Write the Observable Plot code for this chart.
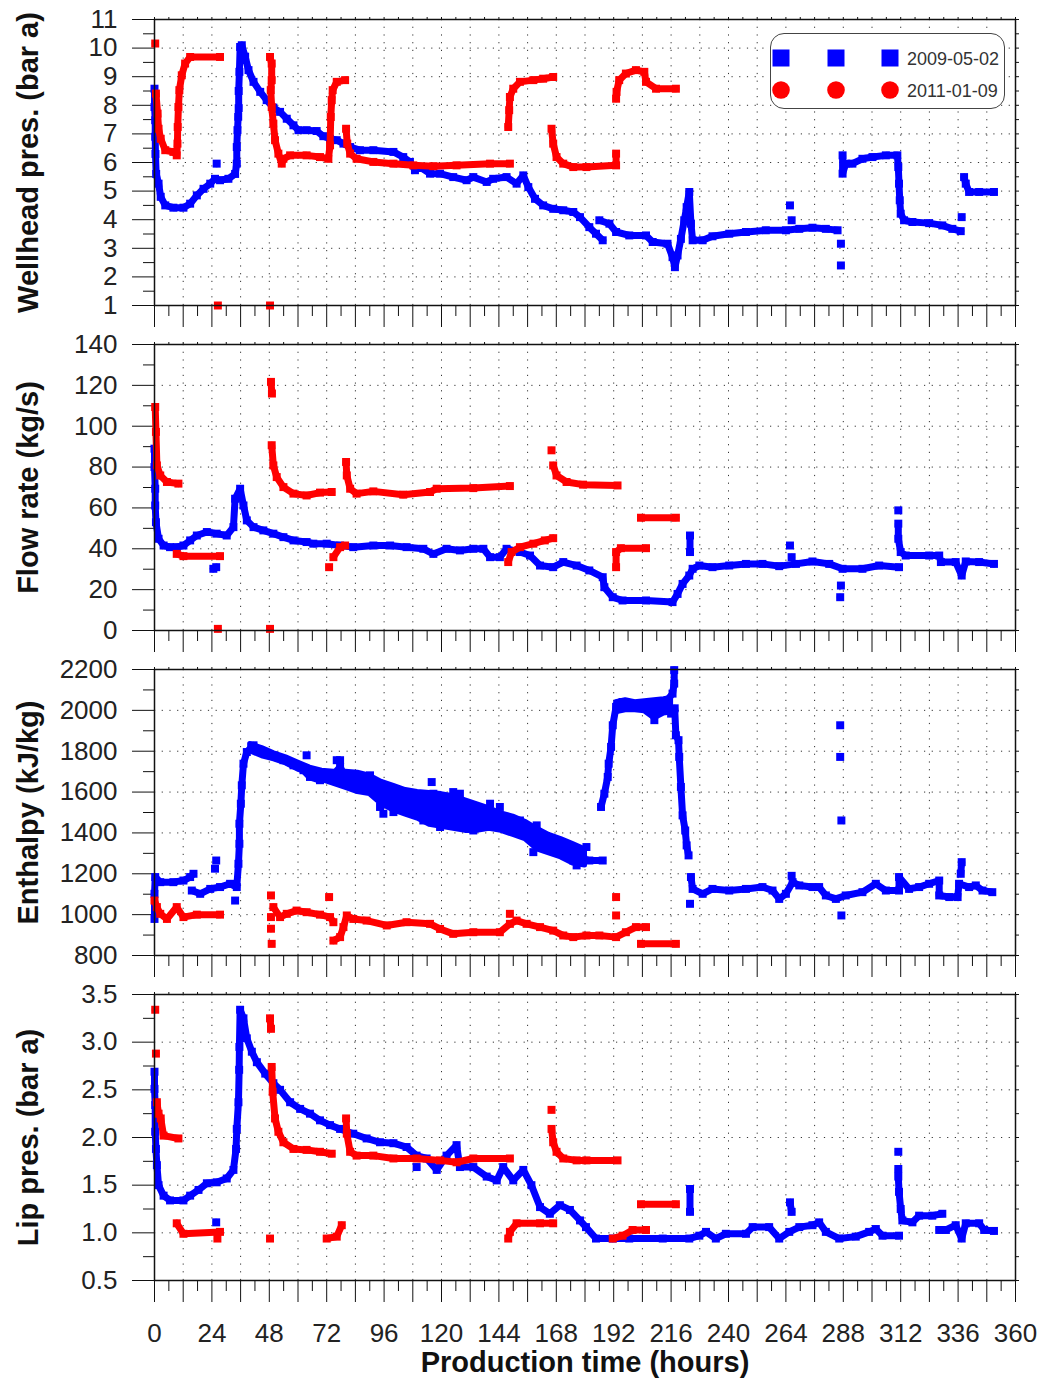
<!DOCTYPE html>
<html><head><meta charset="utf-8">
<script src="https://cdn.jsdelivr.net/npm/d3@7"></script>
<script src="https://cdn.jsdelivr.net/npm/@observablehq/plot@0.6"></script>
<style>
body{margin:0;background:#fff;}
#chart{position:relative;width:1041px;height:1378px;background:#fff;font-family:"Liberation Sans",Arial,sans-serif;}
#chart svg{display:block;}
#legend{position:absolute;left:770px;top:33px;width:235px;height:76px;border:1.5px solid #444;border-radius:14px;box-sizing:border-box;background:#fff;}
</style></head><body><div id="chart"></div>
<script>
// ---- data: [time (h), value]; null = gap in the record ----
const seriesNames = ["2009-05-02", "2011-01-09"];
const timeTicks = d3.range(0, 361, 24);

const wellheadBlue = [[0,8.58],[0,7.94],[0.3,7.48],[0.3,6.9],[0.4,6.3],[0.7,5.6],[1.7,5.26],[2.6,4.8],[4.5,4.5],[7.9,4.42],[12.1,4.42],[14.9,4.56],[17.7,4.85],[20.5,5.08],[23.3,5.26],[25.3,5.43],[27.4,5.38],[30.9,5.43],[33.7,5.6],[34.4,5.96],[34.4,6.54],[34.7,7.13],[35.0,7.6],[35.2,7.9],[35.2,8.5],[35.5,9.17],[35.8,10.04],[36.5,10.1],[37.9,9.7],[39.3,9.23],[41.4,8.82],[44.2,8.47],[46.9,8.18],[49.7,7.92],[52.5,7.77],[55.3,7.53],[58.1,7.3],[60.2,7.13],[63.6,7.13],[67.8,7.1],[70.6,6.92],[73.4,6.83],[76.2,6.78],[79,6.66],[81.8,6.54],[85.9,6.43],[91.5,6.43],[99.9,6.37],[104,6.19],[106.8,6.02],[108.9,5.73],[111,5.84],[115.2,5.61],[119.4,5.61],[124.9,5.49],[130.5,5.38],[133.3,5.49],[138.9,5.32],[141.6,5.43],[147.2,5.49],[151.4,5.26],[154.2,5.55],[156.3,5.14],[159.1,4.73],[162.5,4.5],[166.7,4.38],[170.9,4.33],[175.1,4.27],[177.9,4.09],[181.8,3.74],[184.6,3.51],[187.4,3.28],null,
[26,5.96],null,
[186,3.98],[190.2,3.86],[193,3.57],[198.5,3.45],[205.5,3.45],[208.3,3.22],[214.5,3.16],[216.6,2.69],[217.6,2.34],[218.7,2.75],[220.1,3.33],[221.5,3.98],[222.5,4.44],[223.6,4.97],[224.3,3.86],[225,3.28],[229.2,3.28],[233.3,3.42],[240.3,3.51],[247.3,3.57],[255.6,3.63],[264,3.63],[269.6,3.68],[275.1,3.72],[280.7,3.68],[285.6,3.63],null,
[265.7,4.5],null,[266.4,3.98],null,[287,3.16],null,[287,2.4],null,
[287.7,6.25],[287.7,5.61],[289,5.96],[291.8,5.96],[296,6.13],[300.2,6.19],[305.8,6.25],[310.6,6.25],[311,5.84],[311.3,5.26],[311.6,4.68],[312,4.21],[313.4,3.98],[316.9,3.92],[323.9,3.88],[329.4,3.8],[333.6,3.68],[337.1,3.6],null,
[337.5,4.09],null,
[338.5,5.49],[339.2,5.26],[340.6,4.97],[344.8,4.97],[351,4.97]];

const wellheadRed = [[0.3,10.16],null,
[0.6,8.41],[1.3,7.71],[1.7,7.18],[2.6,6.83],[4.5,6.43],[7.9,6.37],[9.3,6.25],[9.6,6.66],[9.7,7.24],[10,7.94],[10.4,8.53],[11.4,9.05],[12.8,9.46],[14.9,9.69],[27.4,9.69],null,
[26.5,1.0],null,[48.3,1.0],null,
[48.3,9.69],[49,9.46],[49,8.88],[48.6,8.53],[49,7.94],[49.7,7.36],[50.4,6.78],[51.8,6.31],[53.2,5.96],[53.9,6.13],[56.7,6.25],[63.6,6.25],[69.2,6.19],[72.7,6.13],[73.4,6.6],[73.7,7.59],[74.1,8.18],[74.5,8.53],[76.2,8.82],[79.7,8.88],null,
[80.1,7.18],[80.6,6.66],[81.8,6.31],[84.5,6.13],[91.5,6.02],[99.9,5.96],[108.2,5.9],[116.6,5.87],[126.3,5.9],[140.3,5.96],[148.6,5.96],null,
[147.9,7.24],[148.3,7.83],[148.6,8.29],[150,8.58],[152.8,8.82],[158.4,8.88],[162.5,8.93],[166.7,8.99],null,
[166,7.18],[166.7,6.66],[168.1,6.19],[170.9,5.96],[175.1,5.84],[180.6,5.84],[193,5.9],[193,6.31],null,
[193,8.23],[193.2,8.47],[194.3,8.88],[197.1,9.11],[201.3,9.23],[204.8,9.17],[205.5,8.82],[209.7,8.58],[218,8.58]];

const flowBlue = [[0,89],[0,80],[0.3,69.4],[0.3,61.2],[0.6,53],[1.7,44.9],[3.8,41.6],[6.5,40.8],[9.3,40.8],[12.1,41.6],[14.9,44.1],[17.7,46.5],[21.9,48.2],[26,47.4],[30.2,46.5],[33,50.6],[33.7,64.5],[35.8,69.4],[37.2,61.2],[38.6,53.9],[41.4,50.6],[45.5,49],[49.7,47.4],[53.9,45.7],[58.1,44.1],[63.6,43.3],[66.4,42.5],[72,42.5],[77.6,41.6],[83.1,40.8],[91.5,41.6],[98.5,41.6],[105.4,40.8],[112.4,40],[116.6,37.5],[122.1,40],[127.7,39.2],[133.3,40],[137.5,40],[140.3,35.9],[144.4,35.9],[147.2,40],[152.8,38.4],[157,36.7],[161.2,31.8],[166.7,31],[170.9,33.5],[176.5,31.8],[181.8,29.4],[187.4,26.1],[188.1,21.2],[191.6,16.3],[195.7,14.7],[205.5,14.7],[216.6,13.9],[218.7,17.9],[220.8,22.8],[223.6,26.9],[225,30.2],[227.8,31.8],[233.3,31],[240.3,31.8],[247.3,32.6],[254.2,32.6],[261.2,31.5],[268.2,32.6],[275.1,33.8],[282.1,32.6],[287.7,30.2],[296,30.2],[303,31.8],[311.3,31],null,
[24.6,30.2],[25.8,31],null,
[223.9,46.5],[223.9,38.4],null,[265.7,41.6],null,[266.4,35.9],null,[287,22],null,[286.7,16.3],null,
[311,58.8],null,[311,52.3],[311,44.9],[312,38.4],[314.1,36.7],[323.9,36.7],[328.1,36.7],[328.8,33.5],[335,33.5],[337.5,26.9],[339.2,33.8],[344.8,33.5],[351,32.6]];

const flowRed = [[0.3,109.4],[0.6,97.2],[1,80.8],[2.4,75.9],[5.2,72.7],[10,71.9],null,
[9.3,37.5],[12.1,36.4],[27.4,36.4],null,
[26.5,0.8],null,[48.3,0.8],null,
[48.7,121.7],[49.1,116],null,[49,90.7],[49.7,80.8],[51.1,75.1],[53.9,70.2],[58.1,67],[63.6,66.1],[69.2,67.5],[74.1,67.8],null,
[73,31],null,[74.8,35.9],[77.6,40.8],[79.7,41.6],null,
[80.1,82.5],[80.4,75.9],[81.8,69.4],[84.5,67],[91.5,68.1],[104,66.5],[115.2,67.8],[118,69.4],[133.3,69.7],[148.6,70.7],null,
[147.9,33.5],[149.3,38.4],[152.8,40.8],[158.4,42.5],[163.2,44.1],[166.7,45.2],null,
[166,88.2],null,[166.7,80.8],[168.1,75.9],[172.3,72.7],[179.2,71.4],[193.6,71],null,
[193,31],[193,38.4],[195,40.3],[205.5,40.3],null,
[203.4,55.2],[218,55.2]];

const enthalpyBlue = [[0,979],[0,1102],[0.3,1184],[2.4,1159],[7.9,1159],[12.1,1167],[14.9,1184],[16.3,1200],null,
[15.6,1118],[19.1,1102],[23.3,1126],[27.4,1135],[31.6,1151],[34.4,1135],[35.1,1249],[35.5,1347],[35.5,1445],[36.1,1543],[36.5,1633],[37.2,1739],[38.6,1796],[41.4,1829],[44.2,1805],[46.9,1788],[49.7,1780],[53.9,1756],[58.1,1731],[62.3,1707],[65,1674],[69.2,1658],[73.4,1666],[77.6,1723],[80.4,1658],[84.5,1641],[88.7,1666],[91.5,1608],[95.7,1576],[99.9,1600],[104,1559],[108.2,1543],[111,1494],[115.2,1527],[119.4,1478],[123.5,1576],[126.3,1543],[130.5,1510],[133.3,1461],[137.5,1445],[141.6,1478],[145.8,1478],[148.6,1461],[152.8,1461],[157,1396],[159.8,1363],[164,1331],[168.1,1314],[172.3,1306],[175.1,1265],[179.2,1274],[181.8,1265],[187.4,1265],null,
[186.7,1527],[188.1,1592],[189.5,1674],[189.9,1739],[190.9,1821],[191.6,1927],[193,2017],[195.7,2041],[201.3,2017],[205.5,2025],[209.7,2033],[213.8,2041],[216.6,2082],[217.3,2131],[217.3,2197],null,
[217.5,2010],[218,1878],[219.1,1854],[219.4,1772],[220.1,1625],[220.8,1486],[221.9,1412],[222.5,1339],[223.3,1290],null,
[224.3,1184],[225,1126],[229.2,1102],[233.3,1126],[240.3,1118],[247.3,1126],[254.2,1135],[258.4,1118],[261.2,1077],[264,1102],[266.8,1159],[269.6,1143],[275.1,1135],[277.9,1135],[280.7,1094],[284.9,1077],[289,1094],[296,1110],[301.6,1151],[305.8,1118],[311.3,1118],[311.3,1184],[315.5,1126],[319.7,1135],[323.9,1151],[328.1,1167],[328.1,1094],[332.3,1086],[335.8,1086],[336.4,1151],[340.6,1135],[343.4,1143],[346.2,1118],[350.3,1110],null,
[337.1,1200],[337.5,1257]];

// spread of the scattered 2009 enthalpy readings: [time, low, high]
const enthalpyBlueSpread = [[40,1800,1835],[45,1775,1815],[50,1760,1790],[55,1740,1770],[60,1710,1745],[65,1690,1720],[70,1660,1705],[75,1640,1700],[80,1620,1700],[85,1600,1695],[90,1590,1680],[95,1540,1650],[100,1510,1630],[105,1490,1610],[110,1470,1600],[115,1440,1595],[120,1430,1590],[125,1420,1580],[130,1410,1560],[135,1410,1540],[140,1420,1520],[145,1410,1495],[150,1390,1480],[155,1370,1455],[160,1320,1420],[165,1300,1390],[170,1280,1370],[175,1250,1345],[180,1240,1320],null,
[193,1990,2040],[197,2000,2050],[201,2000,2040],[205,1995,2045],[209,1960,2050],[213,1985,2055],[216,1990,2060]];

const enthalpyBlueScatter = [[25.8,1265],[25.3,1225],[33.7,1069],[63.6,1780],[115.9,1649],[140.3,1543],[95.7,1494],[77.6,1756],[94.3,1527],[99.9,1502],[116.6,1592],[119.4,1429],[124.9,1600],[126.3,1437],[133.3,1412],[144.4,1527],[147.2,1429],[151.4,1429],[159.8,1437],[158.4,1306],[168.1,1347],[176.5,1241],[180.6,1331],[76.2,1756],[85.9,1674],[90.1,1682],[97.1,1625],[105.4,1527],[112.4,1461],[120.8,1559],[127.7,1592],[137.5,1478],[223.9,1053],[266.4,1190],[286.7,1927],[286.7,1772],[287.2,1461],[287.2,996],[209,1952],[216,1984]];

const enthalpyRed = [[0,1069],[1,1037],[2.4,1004],[5.2,979],[9.3,1037],[12.1,988],[17.7,1000],[27.4,1000],null,
[48.7,1094],null,[48.7,988],null,[48.7,931],null,[49,857],null,
[49.7,1037],[52.5,988],[55.3,1004],[59.4,1020],[63.6,1012],[69.2,1000],[73.4,988],[74.8,963],null,
[73,1086],null,
[74.8,873],[77.6,890],[79,939],[80.4,996],[83.1,979],[88.7,971],[97.1,947],[105.4,963],[115.2,955],[119.4,930],[124.9,906],[133.3,914],[144.4,914],[148.6,955],[151.4,971],[155.6,955],[161.2,939],[166.7,922],[170.9,898],[175.1,890],[180.6,898],[186,898],[193,890],[197.1,914],[201.3,939],[205.5,939],null,
[148.6,1004],null,[193,1086],null,[193,996],null,
[203.4,857],[218,857]];

const lipBlue = [[0,2.69],[0,2.51],[0.3,2.34],[0.3,2.06],[0.6,1.88],[1,1.71],[1.7,1.5],[3.8,1.39],[6.5,1.34],[12.1,1.34],[14.9,1.39],[18.4,1.45],[21.9,1.52],[26,1.53],[30.2,1.57],[33,1.66],[34.1,1.88],[34.4,2.09],[35.1,2.37],[35.4,2.71],[35.5,2.95],[35.8,3.34],[37.2,3.25],[38.6,3.04],[40.7,2.9],[42.8,2.79],[46.3,2.67],[49.7,2.57],[52.5,2.5],[56.7,2.37],[60.9,2.3],[65,2.25],[69.2,2.18],[73.4,2.13],[77.6,2.09],[83.1,2.04],[88.7,1.99],[94.3,1.95],[99.9,1.94],[105.4,1.9],[109.6,1.81],[113.8,1.78],[118,1.66],[122.1,1.81],[126.3,1.92],[127.7,1.69],[133.3,1.69],[138.9,1.59],[143.1,1.55],[145.8,1.69],[150,1.55],[154.2,1.66],[157.6,1.5],[161.2,1.27],[165.3,1.2],[169.5,1.29],[173.7,1.24],[177.9,1.13],[180.4,1.06],[184.6,0.94],[191.6,0.94],[198.5,0.94],[212.5,0.94],[223.6,0.94],[227.8,0.97],[230.6,1.01],[234.7,0.94],[238.9,0.99],[247.3,0.99],[250.1,1.06],[257,1.06],[261.2,0.94],[265.4,1.01],[269.6,1.06],[275.1,1.08],[277.9,1.11],[280.7,1.01],[286.3,0.94],[293.2,0.96],[298.8,1.01],[301.6,1.04],[304.4,0.97],[311.3,0.97],null,
[25.8,1.11],null,[109.6,1.69],null,
[223.9,1.46],[223.9,1.22],null,[265.7,1.32],[266.4,1.22],null,
[311,1.85],null,[311,1.67],[311,1.59],[311.3,1.43],[312,1.25],[312.7,1.13],[316.9,1.11],[319.7,1.18],[325.2,1.18],[329.4,1.2],null,
[328.1,1.03],[330.9,1.03],[335,1.08],[337.5,0.94],[339.2,1.1],[344.8,1.1],[346.9,1.03],[351,1.02]];

const lipRed = [[0.3,3.34],null,[0.6,2.88],null,[1,2.37],[1.7,2.25],[2.6,2.2],[3.8,2.02],[10,1.99],null,
[9.3,1.1],[12.1,0.99],[27.4,1.01],null,[26.3,0.94],null,[48.3,0.94],null,
[48.3,3.25],[48.7,3.14],null,[49,2.74],[49.4,2.48],[50.4,2.2],[51.8,2.06],[53.9,1.95],[58.1,1.88],[63.6,1.87],[69.2,1.85],[74.1,1.83],null,
[72,0.94],[76.2,0.96],[78.3,1.08],null,
[80.1,2.2],[80.4,2.04],[81.8,1.85],[84.5,1.81],[91.5,1.81],[99.9,1.78],[109.6,1.78],[119.4,1.76],[126.3,1.74],[133.3,1.78],[148.6,1.78],null,
[147.9,0.94],[148.6,1.01],[151.4,1.1],[161.2,1.1],[166.7,1.1],null,
[166,2.29],null,[166,2.09],[166.7,1.95],[168.1,1.85],[170.9,1.78],[176.5,1.76],[180.6,1.76],[193.6,1.76],null,
[191.6,0.94],[195.7,0.97],[199.9,1.03],[205.5,1.03],null,
[203.4,1.3],[218,1.3]];

// ---- rendering ----
const BLUE = "#0000ff", RED = "#ff0000";
const rows = a => a.map(d => d ? {t: d[0], v: d[1]} : {t: NaN, v: NaN});
const bands = a => a.map(d => d ? {t: d[0], lo: d[1], hi: d[2]} : {t: NaN, lo: NaN, hi: NaN});
const blank = () => "";
const FONT = "'Liberation Sans', Arial, sans-serif";
const R_DOT = 4.5, W_LINE = 7;

function panel({blue, red, extra = [], spread = [], domain, step, fmt, label, last}) {
  const [lo, hi] = domain;
  const majors = d3.range(0, Math.round((hi - lo) / step) + 1).map(i => +(lo + i * step).toFixed(4));
  const minors = majors.slice(0, -1).map(v => +(v + step / 2).toFixed(4));
  const inner = majors.slice(1, -1);
  const dotted = {stroke: "#111", strokeOpacity: 0.85, strokeWidth: 1, strokeDasharray: "1.2,6.5"};
  const B = rows(blue), R = rows(red), E = rows(extra), S = bands(spread);
  const marks = [
    Plot.gridX(d3.range(12, 360, 12), dotted),
    Plot.gridY(inner, dotted),
    Plot.axisY(majors, {tickSize: 22, tickPadding: 15, tickFormat: fmt, fontSize: 26, label: null, stroke: "#111"}),
    Plot.axisY(minors, {tickSize: 11, tickFormat: blank, label: null, stroke: "#111"}),
    Plot.axisY(majors.concat(minors), {anchor: "right", tickSize: 3, tickFormat: blank, label: null, stroke: "#111"}),
    Plot.axisX(d3.range(0, 361, 12), {tickSize: 22, tickFormat: blank, label: null, stroke: "#111"}),
    Plot.axisX(d3.range(6, 360, 12), {tickSize: 11, tickFormat: blank, label: null, stroke: "#111"}),
    Plot.axisX(d3.range(0, 361, 6), {anchor: "top", tickSize: 3, tickFormat: blank, label: null, stroke: "#111"})
  ];
  if (S.length) marks.push(Plot.areaY(S, {x: "t", y1: "lo", y2: "hi", fill: BLUE, stroke: BLUE, strokeWidth: 5, strokeLinejoin: "round"}));
  marks.push(
    Plot.line(B, {x: "t", y: "v", stroke: BLUE, strokeWidth: W_LINE}),
    Plot.dot(B, {x: "t", y: "v", symbol: "square", r: R_DOT, fill: BLUE})
  );
  if (E.length) marks.push(Plot.dot(E, {x: "t", y: "v", symbol: "square", r: R_DOT, fill: BLUE}));
  marks.push(
    Plot.line(R, {x: "t", y: "v", stroke: RED, strokeWidth: W_LINE}),
    Plot.dot(R, {x: "t", y: "v", symbol: "square", r: R_DOT, fill: RED}),
    Plot.frame({stroke: "#111", strokeWidth: 1.5}),
    Plot.text([label], {text: d => d, frameAnchor: "left", dx: -126, rotate: -90, textAnchor: "middle", lineAnchor: "middle", fontSize: 29, fontWeight: "bold", fill: "#111"})
  );
  if (last) {
    marks.push(Plot.axisX(timeTicks, {tickSize: 0, tickPadding: 43, fontSize: 26, label: null}));
    marks.push(Plot.text(["Production time (hours)"], {text: d => d, frameAnchor: "bottom", dy: 82, lineAnchor: "middle", fontSize: 29, fontWeight: "bold", fill: "#111"}));
  }
  return Plot.plot({
    width: 1041,
    height: last ? 403 : 325,
    marginLeft: 154, marginRight: 26, marginTop: 19, marginBottom: last ? 98 : 20,
    x: {domain: [0, 360]},
    y: {domain},
    style: {fontFamily: FONT, fontSize: "26px", color: "#222", background: "#fff", overflow: "visible"},
    marks
  });
}

const chart = document.getElementById("chart");
chart.append(
  panel({blue: wellheadBlue, red: wellheadRed, domain: [1, 11], step: 1, fmt: d3.format("d"), label: "Wellhead pres. (bar a)"}),
  panel({blue: flowBlue, red: flowRed, domain: [0, 140], step: 20, fmt: d3.format("d"), label: "Flow rate (kg/s)"}),
  panel({blue: enthalpyBlue, red: enthalpyRed, extra: enthalpyBlueScatter, spread: enthalpyBlueSpread, domain: [800, 2200], step: 200, fmt: d3.format("d"), label: "Enthalpy (kJ/kg)"}),
  panel({blue: lipBlue, red: lipRed, domain: [0.5, 3.5], step: 0.5, fmt: d3.format(".1f"), label: "Lip pres. (bar a)", last: true})
);

// legend (three symbols per entry)
const legend = document.createElement("div");
legend.id = "legend";
const lsvg = d3.create("svg").attr("width", 232).attr("height", 73);
const xs = [10, 65, 119];
seriesNames.forEach((name, i) => {
  const cy = i === 0 ? 24 : 56;
  xs.forEach(cx => {
    if (i === 0) lsvg.append("rect").attr("x", cx - 8.5).attr("y", cy - 8.5).attr("width", 17).attr("height", 17).attr("fill", BLUE);
    else lsvg.append("circle").attr("cx", cx).attr("cy", cy).attr("r", 8.8).attr("fill", RED);
  });
  lsvg.append("text").attr("x", 136).attr("y", cy + 6.5).attr("font-family", FONT).attr("font-size", 18).attr("fill", "#333").text(name);
});
legend.append(lsvg.node());
chart.append(legend);
</script>
</body></html>
